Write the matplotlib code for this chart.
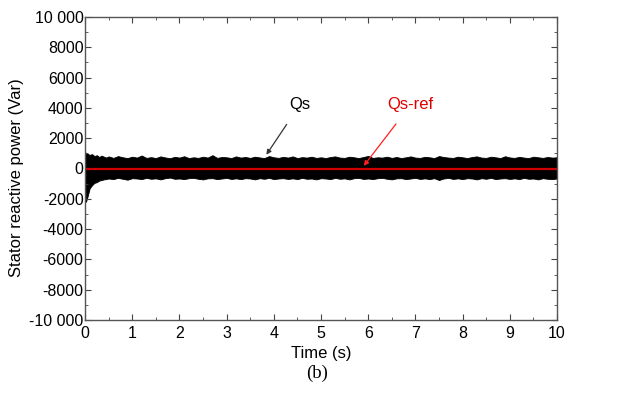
import matplotlib
matplotlib.use("Agg")
import matplotlib.pyplot as plt
from matplotlib.ticker import MultipleLocator, FuncFormatter

# Envelope of the Qs noise band: start transient, then every 0.1 s
t_env = [0.0, 0.02, 0.05, 0.1, 0.15, 0.2, 0.25, 0.3, 0.35, 0.4, 0.45,
         0.5, 0.6, 0.7, 0.8, 0.9, 1.0, 1.1, 1.2, 1.3, 1.4, 1.5, 1.6, 1.7, 1.8, 1.9,
         2.0, 2.1, 2.2, 2.3, 2.4, 2.5, 2.6, 2.7, 2.8, 2.9, 3.0, 3.1, 3.2, 3.3, 3.4,
         3.5, 3.6, 3.7, 3.8, 3.9, 4.0, 4.1, 4.2, 4.3, 4.4, 4.5, 4.6, 4.7, 4.8, 4.9,
         5.0, 5.1, 5.2, 5.3, 5.4, 5.5, 5.6, 5.7, 5.8, 5.9, 6.0, 6.1, 6.2, 6.3, 6.4,
         6.5, 6.6, 6.7, 6.8, 6.9, 7.0, 7.1, 7.2, 7.3, 7.4, 7.5, 7.6, 7.7, 7.8, 7.9,
         8.0, 8.1, 8.2, 8.3, 8.4, 8.5, 8.6, 8.7, 8.8, 8.9, 9.0, 9.1, 9.2, 9.3, 9.4,
         9.5, 9.6, 9.7, 9.8, 9.9, 10.0]
qs_upper = [1000, 1050, 980, 900, 950, 820, 880, 760, 850, 780, 720,
            800, 700, 820, 740, 690, 780, 720, 860, 700, 750, 690, 800, 730, 680, 770,
            720, 810, 690, 740, 700, 780, 720, 880, 700, 760, 740, 690, 800, 720, 760,
            700, 780, 730, 690, 820, 740, 700, 770, 720, 800, 690, 750, 720, 780, 700,
            740, 690, 760, 800, 720, 700, 780, 740, 690, 760, 830, 700, 740, 720, 780,
            700, 760, 690, 740, 800, 720, 700, 770, 740, 690, 820, 760, 720, 700, 780,
            740, 690, 760, 800, 720, 700, 780, 740, 690, 810, 730, 700, 770, 720, 690,
            780, 740, 700, 760, 720, 740]
qs_lower = [-300, -2200, -1900, -1300, -1100, -950, -900, -800, -760, -720, -700,
            -660, -700, -620, -680, -740, -640, -660, -700, -620, -680, -650, -720, -640, -600, -680,
            -660, -700, -640, -620, -680, -720, -650, -640, -700, -660, -620, -690, -650, -700, -640,
            -660, -720, -640, -680, -620, -700, -660, -640, -690, -650, -700, -620, -680, -660, -720,
            -640, -660, -700, -620, -680, -650, -720, -640, -620, -690, -660, -700, -640, -620, -680,
            -720, -650, -640, -700, -660, -620, -690, -650, -700, -640, -760, -660, -620, -690, -650,
            -700, -640, -660, -720, -640, -680, -620, -700, -660, -640, -690, -650, -700, -620, -680,
            -660, -720, -640, -680, -700, -660]
t_ref = [0.0, 10.0]
qs_ref = [0, 0]

FONT = 'Liberation Sans'

fig = plt.figure(figsize=(6.34, 4.12), dpi=100)
ax = fig.add_axes([85/634, 1-320/412, (557-85)/634, (320-17)/412])

ax.fill_between(t_env, qs_lower, qs_upper, color='black', lw=0.6, edgecolor='black')
ax.plot(t_ref, qs_ref, color='#d00000', lw=1.6)

ax.set_xlim(0, 10)
ax.set_ylim(-10000, 10000)
ax.xaxis.set_major_locator(MultipleLocator(1))
ax.xaxis.set_minor_locator(MultipleLocator(0.5))
ax.yaxis.set_major_locator(MultipleLocator(2000))
ax.yaxis.set_minor_locator(MultipleLocator(1000))

def yfmt(v, p):
    v = int(round(v))
    if abs(v) == 10000:
        return ('-' if v < 0 else '') + '10 000'
    return str(v)
ax.yaxis.set_major_formatter(FuncFormatter(yfmt))

ax.tick_params(which='both', direction='in', top=True, right=True, color='#444444')
ax.tick_params(which='major', length=4, labelsize=11.5)
ax.tick_params(axis='y', which='major', pad=1)
ax.tick_params(axis='x', which='major', pad=4)
ax.tick_params(which='minor', length=2)
for lab in ax.get_xticklabels() + ax.get_yticklabels():
    lab.set_fontfamily(FONT)
for s in ax.spines.values():
    s.set_color('#555555')
    s.set_linewidth(1.0)

ax.set_xlabel('Time (s)', fontfamily=FONT, fontsize=12, labelpad=4)
ax.set_ylabel('Stator reactive power (Var)', fontfamily=FONT, fontsize=12, labelpad=2)
ax.yaxis.set_label_coords(-0.13, 0.47)

ax.annotate('Qs', xy=(3.81, 760), xytext=(4.55, 4200), fontsize=12, fontfamily=FONT,
            ha='center', va='center', color='black',
            arrowprops=dict(arrowstyle='-|>', color='#333333', lw=0.9, mutation_scale=7, shrinkA=8))
ax.annotate('Qs-ref', xy=(5.87, 30), xytext=(6.9, 4200), fontsize=12, fontfamily=FONT,
            ha='center', va='center', color='#e00000',
            arrowprops=dict(arrowstyle='-|>', color='#ff2020', lw=0.9, mutation_scale=7, shrinkA=8))

fig.text(317/634, 1-373/412, '(b)', fontfamily='Liberation Serif', fontsize=13.5, ha='center', va='center')

fig.savefig('out.png', dpi=100)
